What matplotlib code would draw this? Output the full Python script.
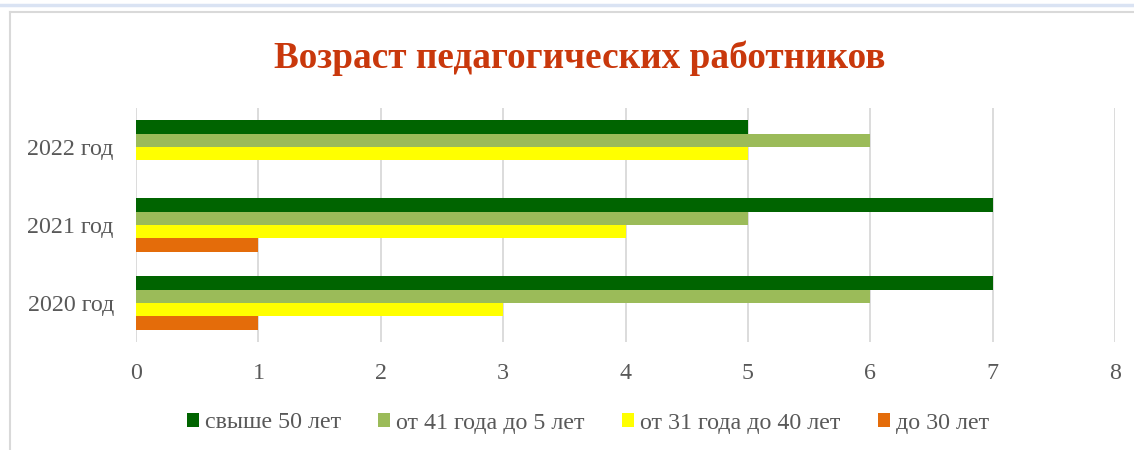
import matplotlib
matplotlib.use("Agg")
from matplotlib import pyplot as plt
from matplotlib.patches import Patch
from matplotlib.lines import Line2D
import numpy as np

years = ['2020 год', '2021 год', '2022 год']
series = ['свыше 50 лет', 'от 41 года до 5 лет', 'от 31 года до 40 лет', 'до 30 лет']
svyshe_50 = [7, 7, 5]
ot_41 = [6, 5, 6]
ot_31 = [3, 4, 5]
do_30 = [1, 1, 0]
colors = ['#006400', '#9BBB59', '#FFFF00', '#E46C0A']

plt.rcParams['font.family'] = ['Liberation Serif', 'DejaVu Serif']

fig = plt.figure(figsize=(11.34, 4.5), dpi=100)
ax = fig.add_axes([136 / 1134, 1 - 342 / 450, 979 / 1134, 234 / 450])

y = np.arange(len(years))
h = 0.17
vals = [svyshe_50, ot_41, ot_31, do_30]
offs = [1.5, 0.5, -0.5, -1.5]
for v, o, c in zip(vals, offs, colors):
    ax.barh(y + o * h, v, height=h, color=c, zorder=3)

ax.set_xlim(0, 8)
ax.set_ylim(-0.5, 2.5)
ax.set_xticks(range(9))
ax.set_yticks(y)
ax.set_yticklabels(years)
ax.grid(axis='x', color='#D9D9D9', linewidth=1.3, zorder=0)
for s in ax.spines.values():
    s.set_visible(False)
ax.tick_params(length=0, labelsize=17.3, colors='#595959')
ax.tick_params(axis='x', pad=15)
ax.tick_params(axis='y', pad=16)

fig.text(0.511, 1 - 58 / 450, 'Возраст педагогических работников', ha='center', va='center',
         fontsize=26.8, fontweight='bold', color='#C9380C')

handles = [Patch(facecolor=c, edgecolor='none') for c in colors]
leg = fig.legend(handles, series, loc='center', bbox_to_anchor=(588 / 1134, 1 - 423 / 450), ncol=4,
                 frameon=False, fontsize=17.3, handlelength=0.5, handleheight=0.5,
                 handletextpad=0.25, columnspacing=1.55, borderpad=0)
for t in leg.get_texts():
    t.set_color('#595959')

# chart frame and top strip
fig.add_artist(Line2D([0, 1], [1 - 5 / 450, 1 - 5 / 450], color='#DAE3F3', linewidth=2.5))
fig.add_artist(Line2D([10 / 1134, 1], [1 - 12 / 450, 1 - 12 / 450], color='#D9D9D9', linewidth=1.5))
fig.add_artist(Line2D([10 / 1134, 10 / 1134], [0, 1 - 12 / 450], color='#D9D9D9', linewidth=1.5))

fig.savefig('out.png', dpi=100)
